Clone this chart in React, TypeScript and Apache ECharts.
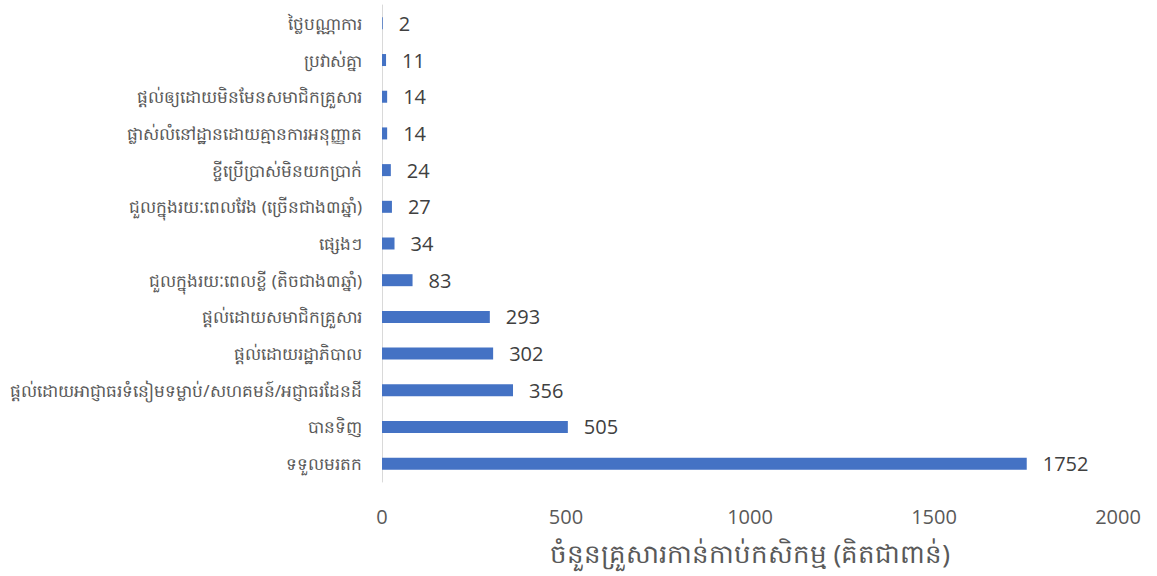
import React, { useEffect, useRef } from "react";
import * as echarts from "echarts";

const categories: string[] = [
  "ថ្លៃបណ្ណាការ",
  "ប្រវាស់គ្នា",
  "ផ្តល់ឲ្យដោយមិនមែនសមាជិកគ្រួសារ",
  "ផ្លាស់លំនៅដ្ឋានដោយគ្មានការអនុញ្ញាត",
  "ខ្ចីប្រើប្រាស់មិនយកប្រាក់",
  "ជួលក្នុងរយៈពេលវែង (ច្រើនជាង៣ឆ្នាំ)",
  "ផ្សេងៗ",
  "ជួលក្នុងរយៈពេលខ្លី (តិចជាង៣ឆ្នាំ)",
  "ផ្តល់ដោយសមាជិកគ្រួសារ",
  "ផ្តល់ដោយរដ្ឋាភិបាល",
  "ផ្តល់ដោយអាជ្ញាធរទំនៀមទម្លាប់/សហគមន៍/អជ្ញាធរដែនដី",
  "បានទិញ",
  "ទទួលមរតក",
];

const values: number[] = [2, 11, 14, 14, 24, 27, 34, 83, 293, 302, 356, 505, 1752];

const axisTitle = "ចំនួនគ្រួសារកាន់កាប់កសិកម្ម (គិតជាពាន់)";

export default function App() {
  const ref = useRef<HTMLDivElement>(null);
  useEffect(() => {
    if (!ref.current) return;
    const chart = echarts.init(ref.current, undefined, { renderer: "svg" });
    chart.setOption({
      animation: false,
      backgroundColor: "#ffffff",
      grid: { left: 382, right: 39, top: 5, bottom: 94, containLabel: false },
      xAxis: {
        type: "value",
        min: 0,
        max: 2000,
        interval: 500,
        axisLine: { show: false },
        axisTick: { show: false },
        splitLine: { show: false },
        axisLabel: {
          color: "#595959",
          fontSize: 20,
          margin: 24,
          fontFamily: "'Open Sans', 'Noto Sans', sans-serif",
          formatter: (v: number) => String(v),
        },
        name: axisTitle,
        nameLocation: "middle",
        nameGap: 58,
        nameTextStyle: {
          color: "#595959",
          fontSize: 26,
          fontFamily: "'Noto Sans', sans-serif",
        },
      },
      yAxis: {
        type: "category",
        data: categories,
        inverse: true,
        axisLine: { show: true, lineStyle: { color: "#d9d9d9", width: 1 } },
        axisTick: { show: false },
        axisLabel: {
          color: "#595959",
          fontSize: 17,
          margin: 20,
          fontFamily: "'Noto Sans', sans-serif",
        },
      },
      series: [
        {
          type: "bar",
          data: values,
          barWidth: 12,
          itemStyle: { color: "#4472C4" },
          label: {
            show: true,
            position: "right",
            distance: 16,
            color: "#404040",
            fontSize: 20,
            fontFamily: "'Open Sans', 'Noto Sans', sans-serif",
          },
        },
      ],
    });
    return () => chart.dispose();
  }, []);
  return (
    <div
      ref={ref}
      style={{ position: "fixed", left: 0, top: 0, width: 1157, height: 576 }}
    />
  );
}
